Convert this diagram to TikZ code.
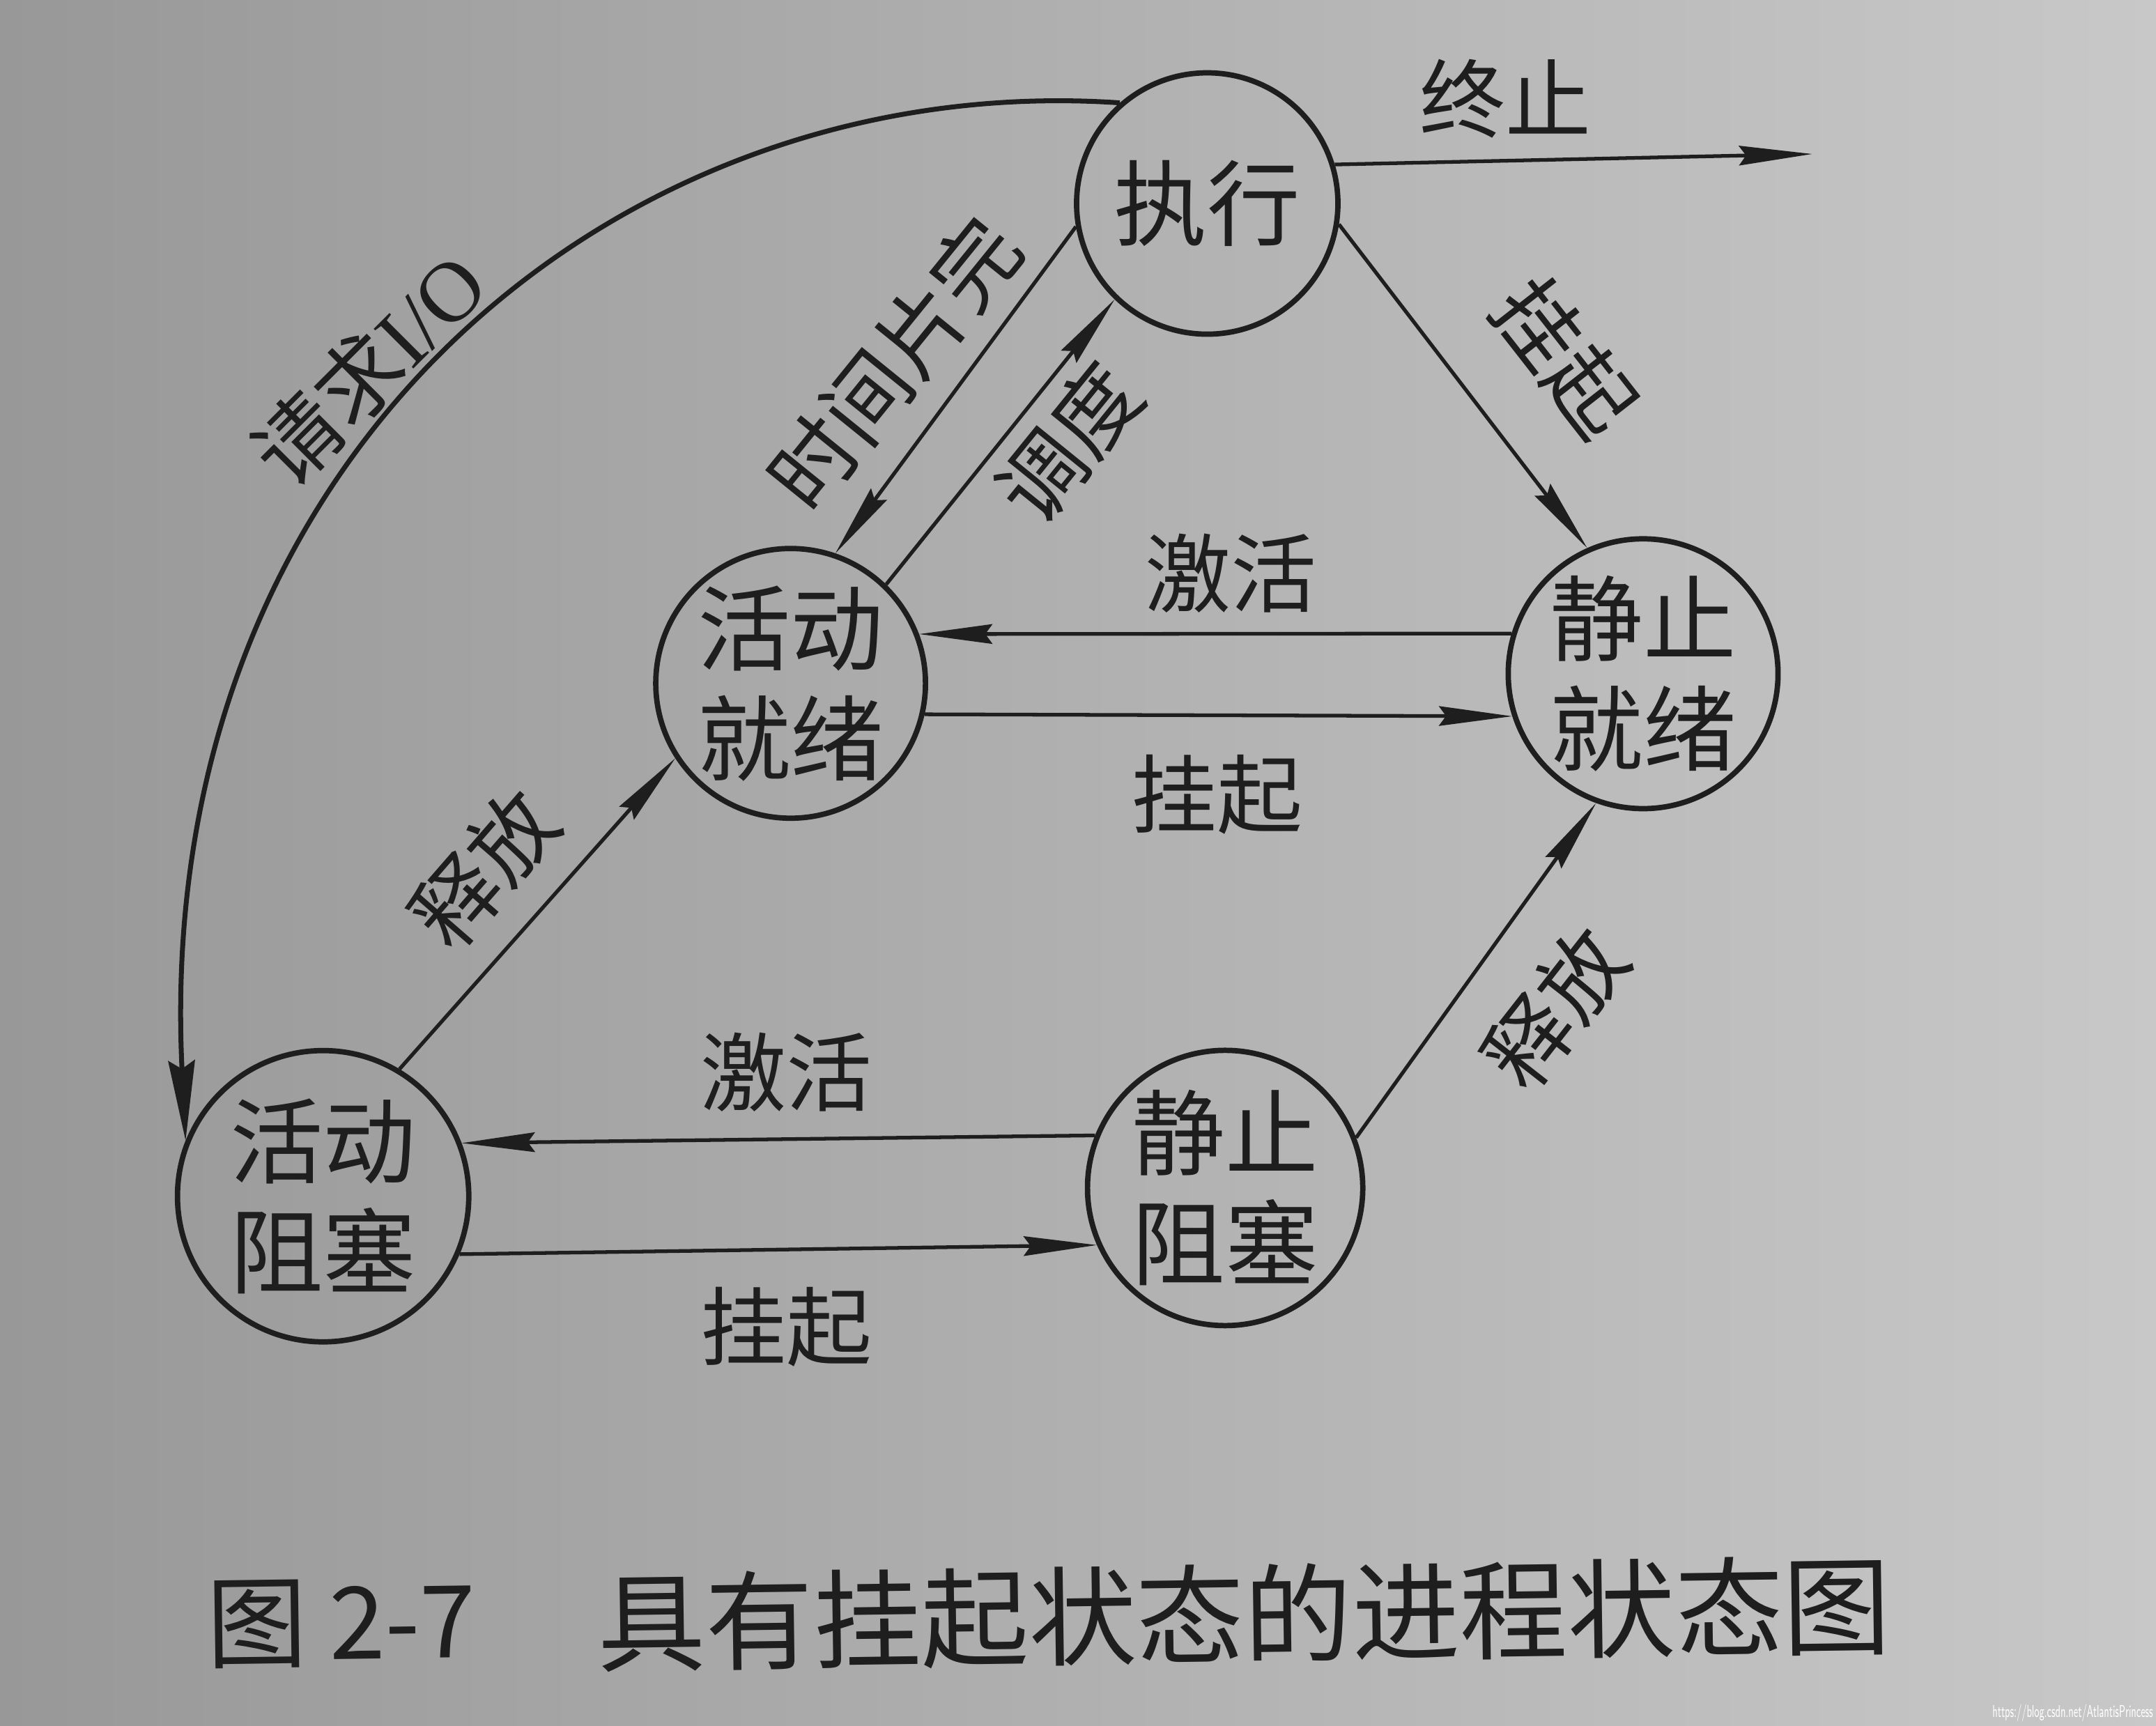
\documentclass[tikz,border=0pt]{standalone}
\usepackage{fontspec}
\newfontfamily\cjk{Noto Sans CJK SC}
\newfontfamily\latinserif{Liberation Serif}
\usetikzlibrary{arrows.meta}
\definecolor{ink}{RGB}{30,30,30}
\definecolor{paperL}{RGB}{152,152,152}
\definecolor{paperR}{RGB}{200,200,200}
\begin{document}
\begin{tikzpicture}[x=0.01973cm, y=-0.01973cm,
  state/.style={circle, draw=ink, line width=2.2pt, inner sep=0pt, text=ink,
    font=\cjk\fontsize{38}{45}\selectfont, align=center},
  lbl/.style={text=ink, font=\cjk\fontsize{35}{40}\selectfont, inner sep=0pt},
  capstyle/.style={text=ink, font=\cjk\fontsize{44}{50}\selectfont, inner sep=0pt},
  conn/.style={draw=ink, line width=1.5pt,
    -{Stealth[length=1.05cm,width=0.28cm,inset=0.1cm]}},
  bigconn/.style={draw=ink, line width=2.0pt,
    -{Stealth[length=1.15cm,width=0.38cm,inset=0.12cm]}}]
\shade[left color=paperL, right color=paperR] (0,0) rectangle (1568,1255);
\path[use as bounding box] (0,0) rectangle (1568,1255);

% states
\node[state, minimum size=3.75cm] (ex) at (878,148) {执行};
\node[state, minimum size=3.87cm] (ar) at (575,497) {活动\\就绪};
\node[state, minimum size=3.87cm] (sr) at (1195,490) {静止\\就绪};
\node[state, minimum size=4.18cm] (ab) at (235,870) {活动\\阻塞};
\node[state, minimum size=3.95cm] (sb) at (891,864) {静止\\阻塞};

% free end of the terminate arrow
\coordinate (term) at (1318,112);

% connectors
\draw[conn] (ex.17) -- (term);
\draw[bigconn] (ex.131) .. controls (450,50) and (110,330) .. (ab.158);
\draw[conn] (ex.190) -- (ar.71);
\draw[conn] (ar.46) -- (ex.226);
\draw[conn] (ex.-9) -- (sr.114);
\draw[conn] (sr.163) -- (ar.21);
\draw[conn] (ar.-13) -- (sr.198);
\draw[conn] (ab.59) -- (ar.213);
\draw[conn] (sb.21) -- (sr.250);
\draw[conn] (sb.158) -- (ab.21);
\draw[conn] (ab.-23) -- (sb.204);

% labels
\node[lbl] (lterm) at (1095,72) {终止};
\node[lbl, rotate=45] (lio) at (268,268) {请求{\latinserif I/O}};
\node[lbl, rotate=51] (lslice) at (650,264) {时间片完};
\node[lbl, rotate=51] (lsched) at (777,322) {调度};
\node[lbl, rotate=-52] (lsus1) at (1138,260) {挂起};
\node[lbl] (lact1) at (895,417) {激活};
\node[lbl] (lsus2) at (885,578) {挂起};
\node[lbl, rotate=49] (lrel1) at (352,632) {释放};
\node[lbl, rotate=52] (lrel2) at (1131,733) {释放};
\node[lbl] (lact2) at (572,780) {激活};
\node[lbl] (lsus3) at (572,965) {挂起};

% caption
\node[capstyle, anchor=west, rotate=0.8, font=\cjk\fontsize{41}{46}\selectfont] (capA) at (150,1182) {图 2-7};
\node[capstyle, rotate=0.8] (capB) at (905,1174) {具有挂起状态的进程状态图};

% watermark
\node[anchor=east, text=white, font=\sffamily\fontsize{7}{8}\selectfont, xscale=0.55, inner sep=0pt] (wm) at (1566,1246) {https://blog.csdn.net/AtlantisPrincess};
\end{tikzpicture}
\end{document}
